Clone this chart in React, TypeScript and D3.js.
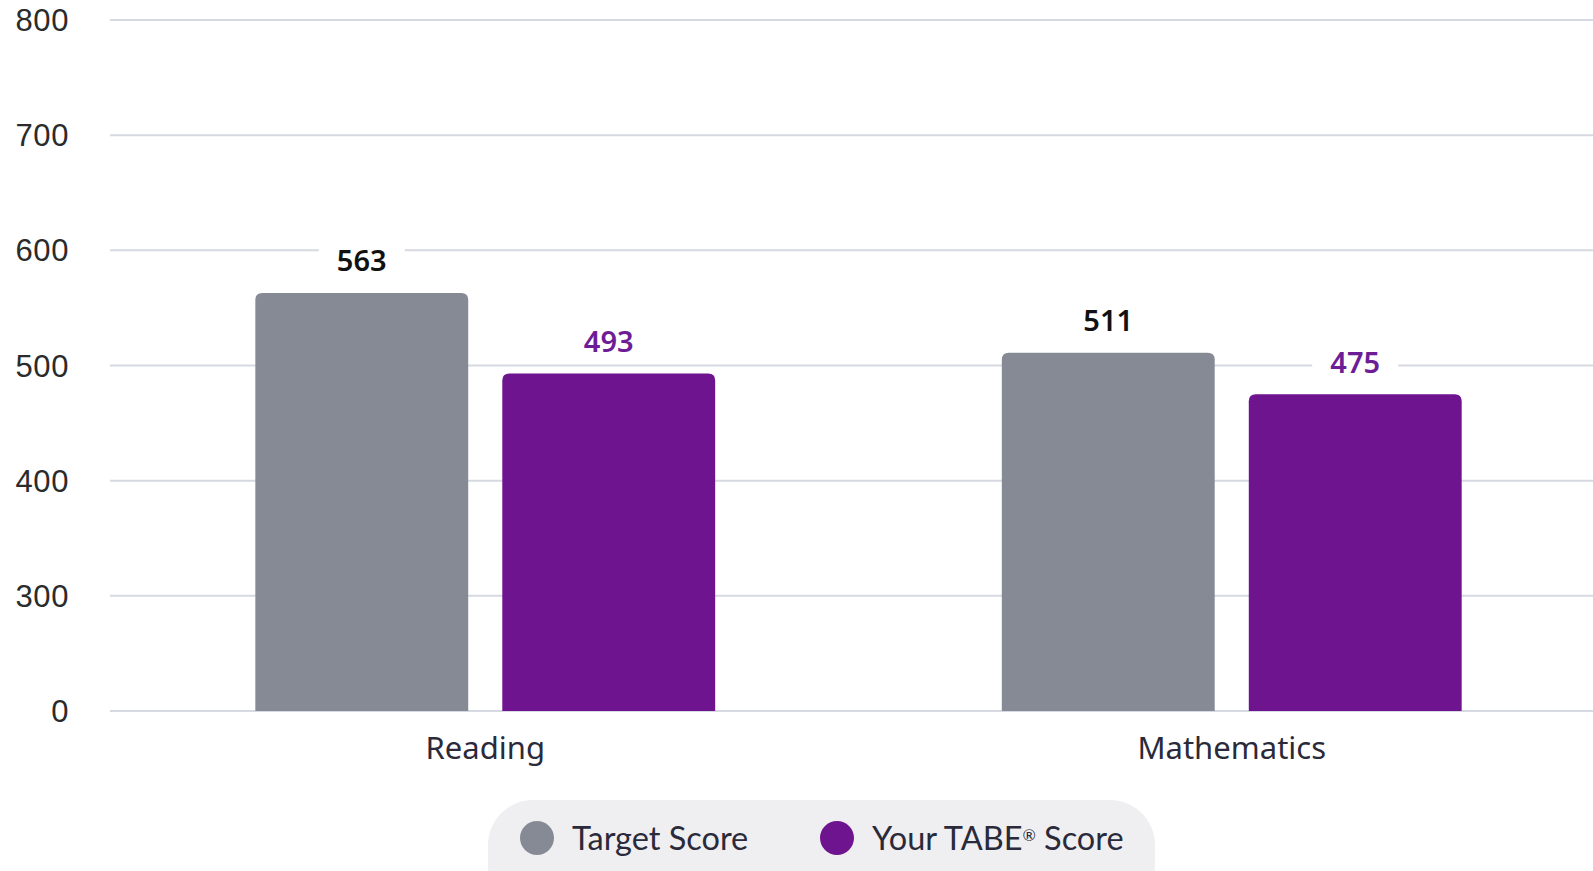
import React from 'react';
import * as d3 from 'd3';

// chart values
const categories = ['Reading', 'Mathematics'];
const seriesNames = ['Target Score', 'Your TABE® Score'];
const targetScores = [563, 511];
const yourScores = [493, 475];
const yTicks = [200, 300, 400, 500, 600, 700, 800];
const yTickLabels = ['0', '300', '400', '500', '600', '700', '800'];

const colors = ['#868a95', '#6d148e'];
const labelColors = ['#111111', '#6d1d96'];

const W = 1593;
const H = 871;

// rect with rounded top corners only
const topRounded = (x: number, y: number, w: number, h: number, r: number) =>
  `M${x},${y + h}V${y + r}Q${x},${y} ${x + r},${y}H${x + w - r}Q${x + w},${y} ${x + w},${y + r}V${y + h}Z`;

const App = () => {
  // scales
  const y = d3.scaleLinear().domain([200, 800]).range([711, 20]);
  const x0 = d3.scaleBand().domain(categories).range([112, 1605]).paddingInner(0.384).paddingOuter(0.192);
  const x1 = d3.scaleBand().domain(seriesNames).range([0, x0.bandwidth()]).paddingInner(0.138);

  const series = [targetScores, yourScores];

  return (
    <svg width={W} height={H} style={{ position: 'absolute', left: 0, top: 0, background: '#fff' }}>
      {/* grid lines and y labels */}
      {yTicks.map((t, i) => (
        <g key={t}>
          <line x1={110} x2={W} y1={y(t)} y2={y(t)} stroke="#d6d9e1" strokeWidth={2} />
          <text x={69} y={y(t)} dy="0.36em" textAnchor="end" fontFamily="Liberation Sans, Arial, sans-serif"
            fontSize={31} fill="#2b2b2b" style={{ letterSpacing: '0.6px' }}>{yTickLabels[i]}</text>
        </g>
      ))}

      {/* bars */}
      {categories.map((c, ci) => (
        <g key={c} transform={`translate(${x0(c)},0)`}>
          {seriesNames.map((s, si) => {
            const v = series[si][ci];
            const bx = x1(s) as number;
            const bw = x1.bandwidth();
            return (
              <path key={s} d={topRounded(bx, y(v), bw, y(200) - y(v), 7)} fill={colors[si]} />
            );
          })}
        </g>
      ))}

      {/* value labels with white boxes that cut the grid */}
      {categories.map((c, ci) => (
        <g key={c + '-lab'} transform={`translate(${x0(c)},0)`}>
          {seriesNames.map((s, si) => {
            const v = series[si][ci];
            const cx = (x1(s) as number) + x1.bandwidth() / 2;
            const cy = y(v) - 32;
            return (
              <g key={s}>
                <rect x={cx - 43} y={cy - 17} width={86} height={34} fill="#fff" />
                <text x={cx} y={cy} dy="0.36em" textAnchor="middle" fontFamily="Noto Sans, sans-serif"
                  fontWeight={600} fontSize={29} fill={labelColors[si]}>{v}</text>
              </g>
            );
          })}
        </g>
      ))}

      {/* category labels */}
      {categories.map(c => (
        <text key={c + '-cat'} x={(x0(c) as number) + x0.bandwidth() / 2} y={748} dy="0.36em" textAnchor="middle"
          fontFamily="Noto Sans, sans-serif" fontSize={31} fill="#2a2a3a">{c}</text>
      ))}

      {/* legend */}
      <rect x={488} y={800} width={667} height={110} rx={45} fill="#efeff1" />
      {seriesNames.map((s, i) => {
        const lx = [537, 837][i];
        return (
          <g key={s + '-leg'}>
            <circle cx={lx} cy={838} r={17} fill={colors[i]} />
            <text x={lx + 35} y={838} dy="0.36em" fontFamily="Lato, sans-serif" fontSize={32.5} fill="#2a2a3a">
              {i === 0 ? s : (<>Your TABE<tspan fontSize={16} baselineShift="super">®</tspan> Score</>)}
            </text>
          </g>
        );
      })}
    </svg>
  );
};

export default App;
